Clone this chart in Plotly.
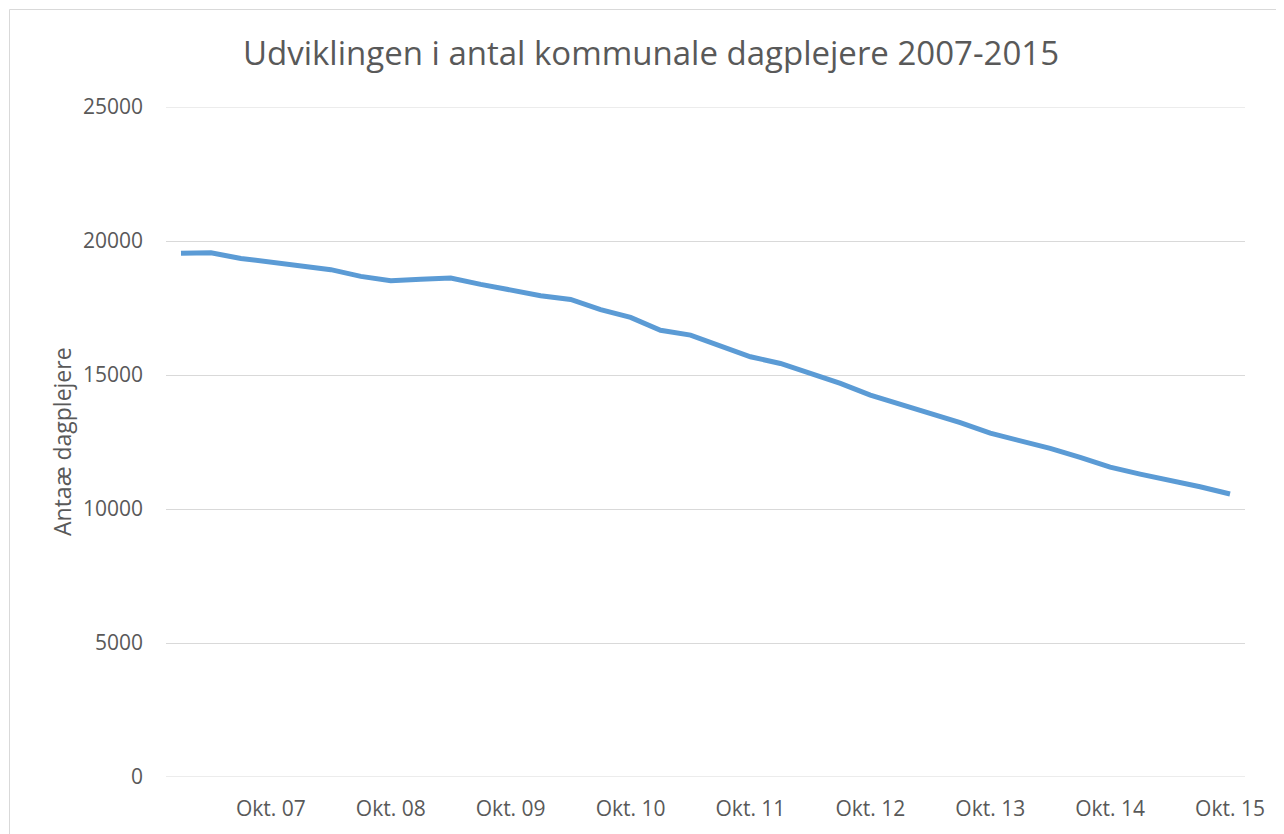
import plotly.graph_objects as go

# ---- data ----
years = ["07", "08", "09", "10", "11", "12", "13", "14", "15"]
months = ["Jan.", "Apr.", "Jul.", "Okt."]
quarters = [f"{m} {y}" for y in years for m in months]
dagplejere = [19540, 19560, 19350, 19200, 19080, 18930, 18680, 18520, 18570,
              18620, 18380, 18170, 17960, 17820, 17440, 17150, 16670, 16490,
              16090, 15680, 15430, 15060, 14690, 14250, 13920, 13570, 13220,
              12830, 12550, 12260, 11930, 11560, 11300, 11080, 10830, 10560]
tick_labels = [f"Okt. {y}" for y in years]
y_ticks = [0, 5000, 10000, 15000, 20000, 25000]

title_text = "Udviklingen i antal kommunale dagplejere 2007-2015"
y_title = "Antaæ dagplejere"

# ---- layout geometry (pixels, in window coordinates) ----
OFF = 8                      # default page body margin
WIN_W, WIN_H = 1284, 834
W, H = WIN_W - OFF, WIN_H - OFF
L, R, T, B = 166, 1245, 107, 777
pw, ph = R - L, B - T

def px(x):
    return (x - L) / pw

def py(y):
    return (B - y) / ph

FONT = "Open Sans"
GRAY = "#595959"
GRID = "#D9D9D9"

fig = go.Figure()
fig.add_trace(go.Scatter(
    x=quarters, y=dagplejere, mode="lines",
    line=dict(color="#5B9BD5", width=5, shape="linear"),
    hoverinfo="x+y", showlegend=False,
))

fig.update_layout(
    width=W, height=H,
    margin=dict(l=L - OFF, r=WIN_W - R, t=T - OFF, b=WIN_H - B, pad=0),
    paper_bgcolor="white", plot_bgcolor="white",
    font=dict(family=FONT, color=GRAY),
    title=dict(text=title_text, x=(651 - OFF) / W, xref="container", xanchor="center",
               y=1 - (53 - OFF) / H, yref="container", yanchor="middle",
               font=dict(family=FONT, size=33, color=GRAY)),
    xaxis=dict(
        type="category", categoryorder="array", categoryarray=quarters,
        range=[-0.5, len(quarters) - 0.5],
        tickmode="array", tickvals=[q for q in quarters if q.startswith("Okt.")],
        ticktext=tick_labels,
        showgrid=False, showline=False, zeroline=False, ticks="",
        tickfont=dict(family=FONT, size=21, color=GRAY),
        ticklabelstandoff=17,
    ),
    yaxis=dict(
        range=[0, 25000], tickmode="array", tickvals=y_ticks,
        ticktext=[str(v) for v in y_ticks],
        showgrid=True, gridcolor=GRID, gridwidth=1,
        zeroline=False, showline=False, ticks="",
        tickfont=dict(family=FONT, size=21, color=GRAY),
        ticklabelstandoff=22,
    ),
    shapes=[
        dict(type="line", xref="paper", yref="y", x0=0, x1=1, y0=y_ticks[0], y1=y_ticks[0],
             line=dict(color=GRID, width=1), layer="below"),
        dict(type="line", xref="paper", yref="y", x0=0, x1=1, y0=y_ticks[-1], y1=y_ticks[-1],
             line=dict(color=GRID, width=1), layer="below"),
        dict(type="rect", xref="paper", yref="paper",
             x0=px(9.5), x1=px(WIN_W + 20), y0=py(9.5), y1=py(WIN_H + 20),
             line=dict(color=GRID, width=1), fillcolor="rgba(0,0,0,0)",
             layer="below"),
    ],
    annotations=[
        dict(text=y_title, xref="paper", yref="paper", x=px(62), y=0.5,
             xanchor="center", yanchor="middle", textangle=-90, showarrow=False,
             font=dict(family=FONT, size=23, color=GRAY)),
    ],
)

fig.write_html("out.html")
